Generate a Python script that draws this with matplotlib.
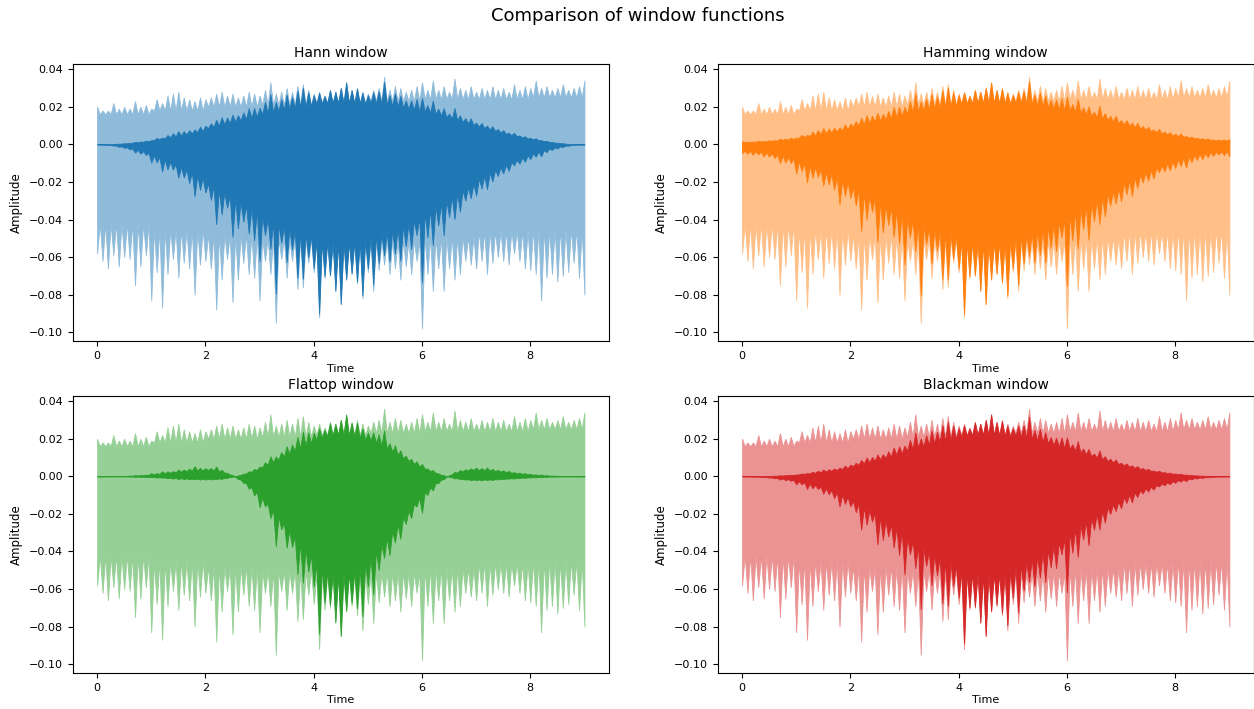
import numpy as np
import matplotlib.pyplot as plt
from matplotlib.colors import to_rgb

# peak envelope of the recording, every 0.1 s (0.0 .. 9.0 s)
peak_hi = [0.020, 0.018, 0.018, 0.022, 0.019, 0.020, 0.019, 0.023, 0.020, 0.021,
           0.019, 0.024, 0.022, 0.026, 0.027, 0.028, 0.025, 0.024, 0.023, 0.025,
           0.024, 0.025, 0.027, 0.028, 0.026, 0.027, 0.025, 0.026, 0.028, 0.027,
           0.026, 0.029, 0.033, 0.027, 0.028, 0.030, 0.028, 0.031, 0.032, 0.029,
           0.027, 0.028, 0.026, 0.029, 0.028, 0.030, 0.033, 0.029, 0.030, 0.028,
           0.027, 0.029, 0.030, 0.036, 0.029, 0.031, 0.030, 0.028, 0.029, 0.031,
           0.033, 0.029, 0.034, 0.029, 0.031, 0.028, 0.035, 0.030, 0.029, 0.031,
           0.028, 0.030, 0.029, 0.031, 0.029, 0.030, 0.028, 0.032, 0.029, 0.031,
           0.030, 0.034, 0.030, 0.031, 0.029, 0.030, 0.032, 0.029, 0.030, 0.031,
           0.034]
peak_lo = [-0.058, -0.062, -0.066, -0.059, -0.065, -0.060, -0.061, -0.075, -0.065, -0.059,
           -0.083, -0.068, -0.087, -0.069, -0.061, -0.071, -0.063, -0.066, -0.080, -0.064,
           -0.062, -0.066, -0.088, -0.072, -0.061, -0.084, -0.072, -0.063, -0.069, -0.071,
           -0.083, -0.062, -0.069, -0.095, -0.061, -0.071, -0.062, -0.077, -0.076, -0.063,
           -0.068, -0.092, -0.071, -0.070, -0.078, -0.085, -0.072, -0.069, -0.074, -0.082,
           -0.068, -0.078, -0.067, -0.064, -0.069, -0.066, -0.072, -0.065, -0.069, -0.062,
           -0.098, -0.069, -0.078, -0.066, -0.078, -0.066, -0.072, -0.069, -0.062, -0.064,
           -0.066, -0.062, -0.069, -0.063, -0.060, -0.062, -0.064, -0.058, -0.062, -0.066,
           -0.067, -0.069, -0.083, -0.071, -0.069, -0.073, -0.070, -0.068, -0.063, -0.071,
           -0.080]
# edges of the dense part of the waveform, one value per second (0-1 s ... 8-9 s)
core_hi = [0.016, 0.018, 0.020, 0.021, 0.022, 0.023, 0.024, 0.024, 0.025]
core_lo = [-0.042, -0.045, -0.048, -0.050, -0.052, -0.051, -0.049, -0.046, -0.045]
duration = 9.0

names = ['Hann', 'Hamming', 'Flattop', 'Blackman']
colors = ['tab:blue', 'tab:orange', 'tab:green', 'tab:red']


def window(name, x):
    # x runs 0..1 over the clip
    c = lambda k: np.cos(2 * np.pi * k * x)
    if name == 'Hann':
        return 0.5 - 0.5 * c(1)
    if name == 'Hamming':
        return 0.54 - 0.46 * c(1)
    if name == 'Blackman':
        return 0.42 - 0.5 * c(1) + 0.08 * c(2)
    a = [0.21557895, 0.41663158, 0.277263158, 0.083578947, 0.006947368]
    return a[0] - a[1] * c(1) + a[2] * c(2) - a[3] * c(3) + a[4] * c(4)


def interleave(a, b):
    out = np.empty(len(a) + len(b))
    out[0::2] = a
    out[1::2] = b
    return out


# outline: each peak is a spike, the dense core sits between the peaks
peak_t = np.linspace(0, duration, len(peak_hi))
mid_t = (peak_t[:-1] + peak_t[1:]) / 2
sec = np.minimum(mid_t.astype(int), len(core_hi) - 1)
edge_t = interleave(peak_t, mid_t)
upper = interleave(peak_hi, np.array(core_hi)[sec])
lower = interleave(peak_lo, np.array(core_lo)[sec])

fig = plt.figure(figsize=(12.54, 7.09), dpi=100)
fig.suptitle('Comparison of window functions', x=0.509, y=0.99, fontsize=13)

lefts = [0.058, 0.5723, 0.058, 0.5723]
bottoms = [0.519, 0.519, 0.0508, 0.0508]
for i, name in enumerate(names):
    ax = fig.add_axes([lefts[i], bottoms[i], 0.4275, 0.3905])
    w = window(name, edge_t / duration)
    light = 0.5 * np.array(to_rgb(colors[i])) + 0.5
    ax.fill_between(edge_t, lower, upper, color=light, lw=0.6)
    ax.fill_between(edge_t, lower * w, upper * w, color=colors[i], lw=0.6)
    ax.set_title(name + ' window', fontsize=10, pad=5)
    ax.set_xlabel('Time', fontsize=8, labelpad=2)
    ax.set_ylabel('Amplitude', fontsize=8.5)
    ax.tick_params(labelsize=8)

fig.savefig('out.png', dpi=100)
